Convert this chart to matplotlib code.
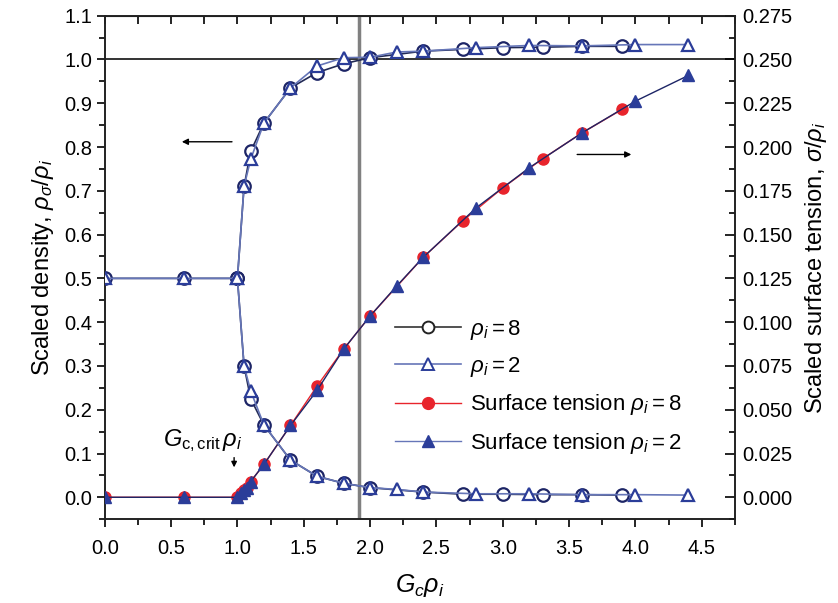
import matplotlib
matplotlib.use('Agg')
import matplotlib.pyplot as plt
from matplotlib.lines import Line2D
from matplotlib.ticker import MultipleLocator, FormatStrFormatter

plt.rcParams['font.family'] = ['Liberation Sans', 'DejaVu Sans']
plt.rcParams['mathtext.fontset'] = 'custom'
plt.rcParams['mathtext.rm'] = 'Liberation Sans'
plt.rcParams['mathtext.it'] = 'Liberation Sans:italic'
plt.rcParams['mathtext.bf'] = 'Liberation Sans:bold'

# scaled density, rho_i = 8 (liquid branch starts from the uniform state)
x8_liq = [0.0, 0.6, 1.0, 1.05, 1.1, 1.2, 1.4, 1.6, 1.8, 2.0, 2.4, 2.7, 3.0, 3.3, 3.6, 3.9]
d8_liq = [0.5, 0.5, 0.5, 0.71, 0.79, 0.855, 0.935, 0.97, 0.99, 1.004, 1.019, 1.023, 1.027,
          1.028, 1.03, 1.03]
x8_gas = [1.0, 1.05, 1.1, 1.2, 1.4, 1.6, 1.8, 2.0, 2.4, 2.7, 3.0, 3.3, 3.6, 3.9]
d8_gas = [0.5, 0.30, 0.225, 0.165, 0.085, 0.048, 0.032, 0.022, 0.012, 0.007, 0.007, 0.006,
          0.006, 0.005]

# scaled density, rho_i = 2
x2_liq = [0.0, 0.6, 1.0, 1.05, 1.1, 1.2, 1.4, 1.6, 1.8, 2.0, 2.2, 2.4, 2.8, 3.2, 3.6, 4.0, 4.4]
d2_liq = [0.5, 0.5, 0.5, 0.71, 0.772, 0.855, 0.935, 0.985, 1.004, 1.005, 1.017, 1.019, 1.027,
          1.032, 1.031, 1.034, 1.034]
x2_gas = [1.0, 1.05, 1.1, 1.2, 1.4, 1.6, 1.8, 2.0, 2.2, 2.4, 2.8, 3.2, 3.6, 4.0, 4.4]
d2_gas = [0.5, 0.30, 0.243, 0.165, 0.085, 0.048, 0.032, 0.022, 0.018, 0.012, 0.008, 0.008,
          0.006, 0.006, 0.005]

# scaled surface tension
xs8 = [0.0, 0.6, 1.0, 1.03, 1.05, 1.07, 1.1, 1.2, 1.4, 1.6, 1.8, 2.0, 2.4, 2.7, 3.0, 3.3, 3.6, 3.9]
s8 = [0.0, 0.0, 0.0, 0.0027, 0.004, 0.0055, 0.009, 0.0188, 0.041, 0.0635, 0.0845, 0.1035,
      0.137, 0.158, 0.1767, 0.1933, 0.2082, 0.2215]
xs2 = [0.0, 0.6, 1.0, 1.03, 1.05, 1.07, 1.1, 1.2, 1.4, 1.6, 1.8, 2.0, 2.2, 2.4, 2.8, 3.2, 3.6,
       4.0, 4.4]
s2 = [0.0, 0.0, 0.0, 0.0027, 0.004, 0.0055, 0.009, 0.0188, 0.041, 0.061, 0.0845, 0.1035,
      0.1206, 0.137, 0.1653, 0.1882, 0.2082, 0.2262, 0.2409]

gc_crit_line = 1.92

navy = '#1d2566'
blue = '#2b3d99'
light_blue = '#6676b8'
red = '#e8242c'

fig = plt.figure(figsize=(8.38, 6.03), dpi=100)
ax = fig.add_axes([0.125, 0.139, 0.752, 0.835])
ax2 = ax.twinx()

ax.axhline(1.0, color='#333333', lw=1.4, zorder=1)
ax.axvline(gc_crit_line, color='#808080', lw=2.5, zorder=1)

# surface tension on the right axis
ax2.plot(xs8, s8, '-', color=red, lw=1.0, marker='o', ms=8, mfc=red, mec=red, zorder=3)
ax2.plot(xs2, s2, '-', color=navy, lw=1.0, marker='^', ms=8, mfc=blue, mec=blue, zorder=4)

# density branches, drawn on top of the surface tension
for xs, ys in [(x8_liq, d8_liq), (x8_gas, d8_gas)]:
    ax2.plot(xs, [v * 0.25 for v in ys], '-', color='#222a55', lw=1.2, marker='o', ms=9,
             mfc='white', mec=navy, mew=1.6, zorder=5)
for xs, ys in [(x2_liq, d2_liq), (x2_gas, d2_gas)]:
    ax2.plot(xs, [v * 0.25 for v in ys], '-', color=light_blue, lw=1.2, marker='^', ms=9,
             mfc='white', mec=blue, mew=1.6, zorder=6)

ax.set_xlim(0, 4.75)
ax.set_ylim(-0.05, 1.1)
ax2.set_ylim(-0.0125, 0.275)

ax.set_xticks([0, 0.5, 1.0, 1.5, 2.0, 2.5, 3.0, 3.5, 4.0, 4.5])
ax.xaxis.set_minor_locator(MultipleLocator(0.25))
ax.yaxis.set_major_locator(MultipleLocator(0.1))
ax.yaxis.set_minor_locator(MultipleLocator(0.05))
ax2.yaxis.set_major_locator(MultipleLocator(0.025))
ax2.yaxis.set_minor_locator(MultipleLocator(0.0125))
ax.xaxis.set_major_formatter(FormatStrFormatter('%.1f'))
ax.yaxis.set_major_formatter(FormatStrFormatter('%.1f'))
ax2.yaxis.set_major_formatter(FormatStrFormatter('%.3f'))

ax.tick_params(axis='x', which='major', direction='out', length=6, width=1.2, labelsize=14.5,
               top=False, pad=8)
ax.tick_params(axis='x', which='minor', direction='out', length=4, width=1.2, top=False)
ax.tick_params(axis='y', which='major', direction='out', length=6, width=1.2, labelsize=14.5,
               pad=3)
ax.tick_params(axis='y', which='minor', direction='out', length=4, width=1.2)
ax2.tick_params(axis='y', which='major', direction='in', length=7, width=1.2, labelsize=14.5,
                pad=5)
ax2.tick_params(axis='y', which='minor', direction='in', length=4, width=1.2)
for a in (ax, ax2):
    for s in a.spines.values():
        s.set_linewidth(1.2)
        s.set_color('#222222')

# top ticks point into the plot
sec = ax.secondary_xaxis('top')
sec.xaxis.set_major_locator(MultipleLocator(0.25))
sec.tick_params(direction='in', length=6, width=1.2, labeltop=False)

ax.set_ylabel(r'Scaled density, $\rho_\sigma/\rho_i$', fontsize=17, labelpad=6)
ax2.set_ylabel(r'Scaled surface tension, $\sigma/\rho_i$', fontsize=17, labelpad=8)
ax.set_xlabel(r'$G_c\rho_i$', fontsize=18, labelpad=10)

# arrows pointing to each curve's axis
ax.annotate('', xy=(0.56, 0.812), xytext=(0.98, 0.812),
            arrowprops=dict(arrowstyle='-|>', color='black', lw=1.0, mutation_scale=9))
ax.annotate('', xy=(3.99, 0.783), xytext=(3.54, 0.783),
            arrowprops=dict(arrowstyle='-|>', color='black', lw=1.0, mutation_scale=9))
ax.text(0.44, 0.1, r'$G_{\rm c,crit}\,\rho_i$', fontsize=17, ha='left', va='bottom')
ax.annotate('', xy=(0.975, 0.062), xytext=(0.975, 0.097),
            arrowprops=dict(arrowstyle='-|>', color='black', lw=1.0, mutation_scale=8))

handles = [
    Line2D([], [], color='#333333', lw=1.2, marker='o', ms=8.5, mfc='white', mec='#222222', mew=1.4),
    Line2D([], [], color=light_blue, lw=1.2, marker='^', ms=8.5, mfc='white', mec=blue, mew=1.4),
    Line2D([], [], color=red, lw=1.0, marker='o', ms=8.5, mfc=red, mec=red),
    Line2D([], [], color=light_blue, lw=1.0, marker='^', ms=8.5, mfc=blue, mec=blue),
]
labels = [r'$\rho_i = 8$', r'$\rho_i = 2$', r'Surface tension $\rho_i = 8$',
          r'Surface tension $\rho_i = 2$']
leg = ax2.legend(handles, labels, loc='upper left', bbox_to_anchor=(0.46, 0.40),
                 frameon=False, fontsize=16, handlelength=3.0, handletextpad=0.4,
                 labelspacing=0.6, borderpad=0, borderaxespad=0)
leg.set_zorder(10)

fig.savefig('out.png', dpi=100)
